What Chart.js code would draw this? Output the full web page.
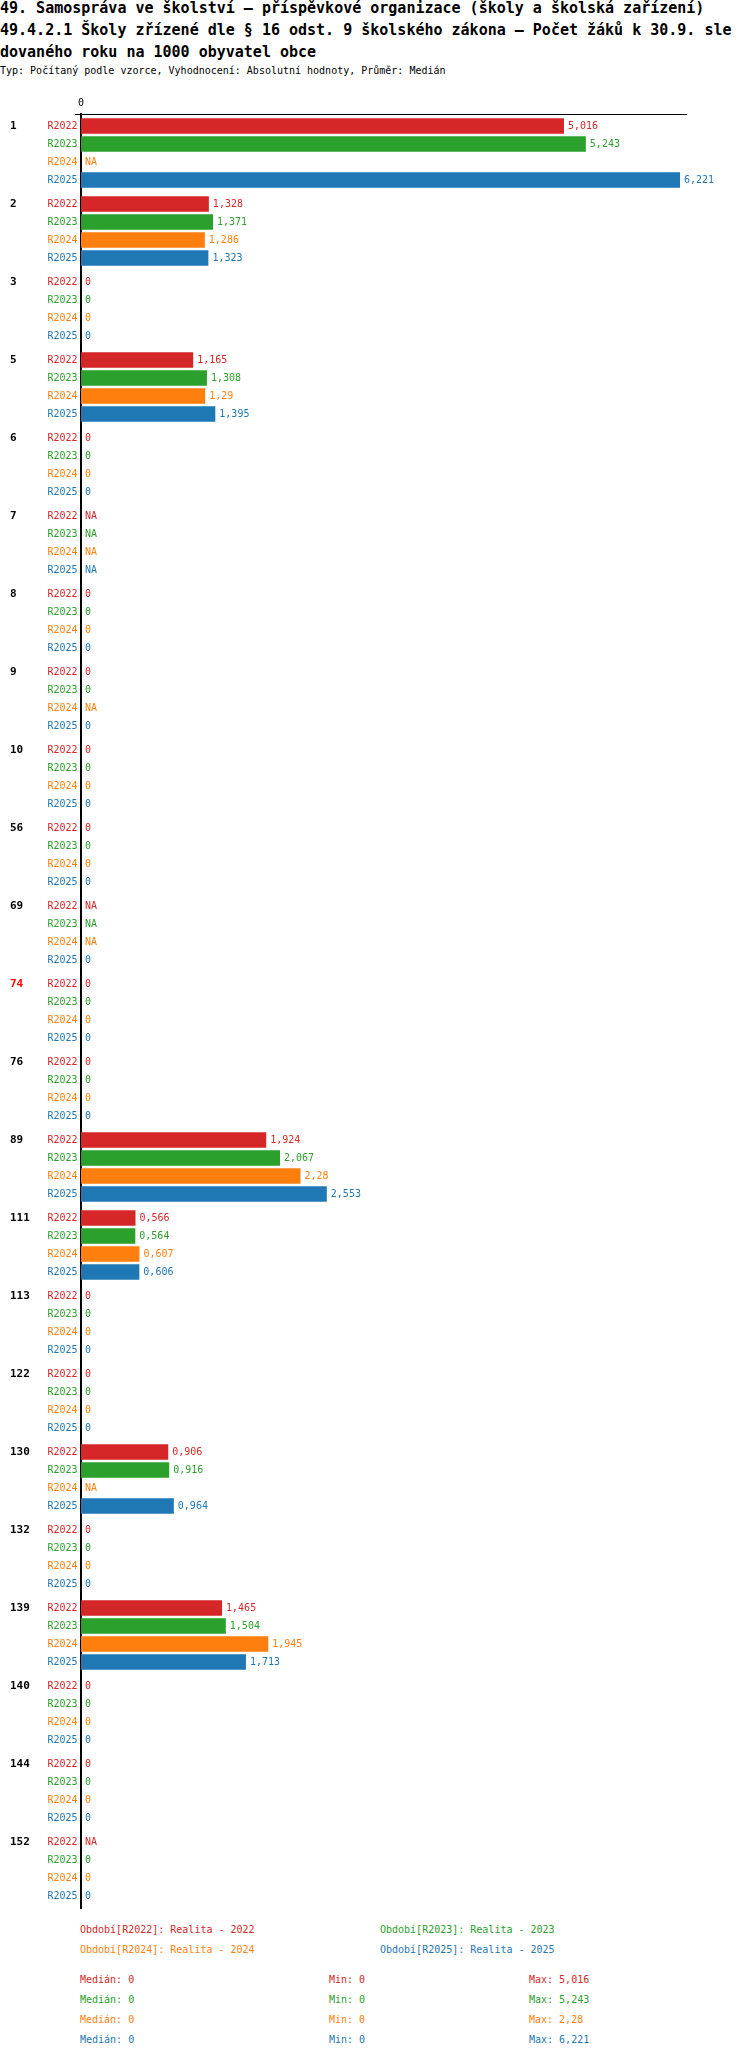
<!DOCTYPE html>
<html lang="cs">

<head>
    <meta charset="UTF-8">
    <meta name="viewport" content="width=device-width, initial-scale=1.0">
    <script src="https://cdnjs.cloudflare.com/ajax/libs/Chart.js/4.4.1/chart.umd.min.js"></script>
    <title>49.4.2.1</title>
    <style>
        body { margin: 0; background: #fff; font-family: 'DejaVu Sans Mono', monospace; }
        .abs { position: absolute; white-space: pre; }
        #title { left: 0; top: -3px; font: bold 15px/22px 'DejaVu Sans Mono', monospace; color: #000; }
        #sub { left: 0; top: 61px; font: 10px/20px 'DejaVu Sans Mono', monospace; color: #000; }
        #wrap { position: absolute; left: 0; top: 88px; width: 750px; height: 1830px; }
        .small { font: 10px/20px 'DejaVu Sans Mono', monospace; }
    </style>
</head>

<body>
    <div id="title" class="abs">49. Samospráva ve školství – příspěvkové organizace (školy a školská zařízení)
49.4.2.1 Školy zřízené dle § 16 odst. 9 školského zákona – Počet žáků k 30.9. sle
dovaného roku na 1000 obyvatel obce</div>
    <div id="sub" class="abs">Typ: Počítaný podle vzorce, Vyhodnocení: Absolutní hodnoty, Průměr: Medián</div>

    <div id="wrap">
        <canvas id="myChart"></canvas>
    </div>
    <div id="legend"></div>

    <script>
        // kategorie (obce) a hodnoty za jednotlivá období, null = NA
        var v_labels = ['1', '2', '3', '5', '6', '7', '8', '9', '10', '56', '69', '74', '76', '89',
            '111', '113', '122', '130', '132', '139', '140', '144', '152'];
        var v_r2022 = [5.016, 1.328, 0, 1.165, 0, null, 0, 0, 0, 0, null, 0, 0, 1.924,
            0.566, 0, 0, 0.906, 0, 1.465, 0, 0, null];
        var v_r2023 = [5.243, 1.371, 0, 1.308, 0, null, 0, 0, 0, 0, null, 0, 0, 2.067,
            0.564, 0, 0, 0.916, 0, 1.504, 0, 0, 0];
        var v_r2024 = [null, 1.286, 0, 1.29, 0, null, 0, null, 0, 0, null, 0, 0, 2.28,
            0.607, 0, 0, null, 0, 1.945, 0, 0, 0];
        var v_r2025 = [6.221, 1.323, 0, 1.395, 0, null, 0, 0, 0, 0, 0, 0, 0, 2.553,
            0.606, 0, 0, 0.964, 0, 1.713, 0, 0, 0];
        var v_series = ['R2022', 'R2023', 'R2024', 'R2025'];
        var v_legendText = ['Realita - 2022', 'Realita - 2023', 'Realita - 2024', 'Realita - 2025'];
        var v_colors = ['#d62728', '#2ca02c', '#ff7f0e', '#1f77b4'];
        var v_highlight = '74';
        var v_xTicks = [0];

        var v_all = [v_r2022, v_r2023, v_r2024, v_r2025];

        var f_fmt = function (p_val) {
            if (p_val === null) return 'NA';
            return String(p_val).replace('.', ',');
        }

        var f_stats = function (p_arr) {
            var v_ok = p_arr.filter(function (v) { return v !== null; }).slice().sort(function (a, b) { return a - b; });
            var v_n = v_ok.length;
            var v_med = v_n % 2 ? v_ok[(v_n - 1) / 2] : (v_ok[v_n / 2 - 1] + v_ok[v_n / 2]) / 2;
            return { med: v_med, min: v_ok[0], max: v_ok[v_n - 1] };
        }

        var v_maxAll = Math.max.apply(null, v_all.map(function (a) { return f_stats(a).max; }));

        // popisky u sloupců, názvy období a kategorie
        var labelPlugin = {
            id: 'labelPlugin',
            afterDatasetsDraw: function (chart) {
                var ctx = chart.ctx;
                var xs = chart.scales.x;
                var area = chart.chartArea;
                ctx.save();
                ctx.textBaseline = 'middle';
                for (var i = 0; i < chart.data.datasets.length; i++) {
                    var meta = chart.getDatasetMeta(i);
                    var data = chart.data.datasets[i].data;
                    for (var j = 0; j < data.length; j++) {
                        var el = meta.data[j];
                        var y = el.y;
                        var x = data[j] === null ? xs.getPixelForValue(0) : el.x;
                        ctx.fillStyle = v_colors[i];
                        ctx.font = "10px 'DejaVu Sans Mono'";
                        ctx.textAlign = 'left';
                        ctx.fillText(f_fmt(data[j]), x + 4, y);
                        ctx.textAlign = 'right';
                        ctx.fillText(v_series[i], area.left - 3.5, y);
                        if (i === 0) {
                            ctx.textAlign = 'left';
                            ctx.font = "bold 11px 'DejaVu Sans Mono'";
                            ctx.fillStyle = v_labels[j] === v_highlight ? '#ff0000' : '#000';
                            ctx.fillText(v_labels[j], 10, y);
                        }
                    }
                }
                // krátký přesah horní osy doleva
                ctx.strokeStyle = '#000';
                ctx.lineWidth = 1;
                ctx.beginPath();
                ctx.moveTo(area.left - 6, area.top + 0.5);
                ctx.lineTo(area.left, area.top + 0.5);
                ctx.stroke();
                ctx.restore();
            }
        };

        var v_datasets = v_all.map(function (arr, i) {
            return {
                label: v_series[i],
                data: arr,
                backgroundColor: v_colors[i],
                borderWidth: 0,
                categoryPercentage: 72 / 78,
                barPercentage: 0.87
            };
        });

        const ctx = document.getElementById('myChart').getContext('2d');
        const myChart = new Chart(ctx, {
            type: 'bar',
            data: { labels: v_labels, datasets: v_datasets },
            plugins: [labelPlugin],
            options: {
                indexAxis: 'y',
                responsive: true,
                maintainAspectRatio: false,
                animation: false,
                layout: { padding: { left: 0, right: 64, top: 0, bottom: 10 } },
                plugins: { legend: { display: false }, tooltip: { enabled: false } },
                scales: {
                    x: {
                        position: 'top',
                        min: 0,
                        max: v_maxAll * 1.01,
                        grid: { display: false, drawTicks: false },
                        border: { display: true, color: '#000', width: 1 },
                        afterBuildTicks: function (scale) {
                            scale.ticks = v_xTicks.map(function (v) { return { value: v }; });
                        },
                        afterFit: function (scale) { scale.height = 26; },
                        ticks: {
                            color: '#000',
                            padding: 5,
                            maxRotation: 0,
                            font: { family: 'DejaVu Sans Mono', size: 10 },
                            callback: function (v) { return f_fmt(v); }
                        }
                    },
                    y: {
                        grid: { display: false },
                        border: { display: true, color: '#000', width: 2 },
                        ticks: { display: false },
                        afterFit: function (scale) { scale.width = 81; }
                    }
                }
            }
        });

        // legenda a souhrnné hodnoty pod grafem
        var v_html = '';
        var v_legPos = [[80, 1920], [380, 1920], [80, 1940], [380, 1940]];
        for (var i = 0; i < v_series.length; i++) {
            v_html += '<div class="abs small" style="left:' + v_legPos[i][0] + 'px;top:' + v_legPos[i][1] +
                'px;color:' + v_colors[i] + '">Období[' + v_series[i] + ']: ' + v_legendText[i] + '</div>';
        }
        for (var i = 0; i < v_series.length; i++) {
            var v_st = f_stats(v_all[i]);
            var v_top = 1970 + i * 20;
            var v_c = v_colors[i];
            v_html += '<div class="abs small" style="left:80px;top:' + v_top + 'px;color:' + v_c + '">Medián: ' + f_fmt(v_st.med) + '</div>';
            v_html += '<div class="abs small" style="left:329px;top:' + v_top + 'px;color:' + v_c + '">Min: ' + f_fmt(v_st.min) + '</div>';
            v_html += '<div class="abs small" style="left:529px;top:' + v_top + 'px;color:' + v_c + '">Max: ' + f_fmt(v_st.max) + '</div>';
        }
        document.getElementById('legend').innerHTML = v_html;
    </script>

</body>

</html>
